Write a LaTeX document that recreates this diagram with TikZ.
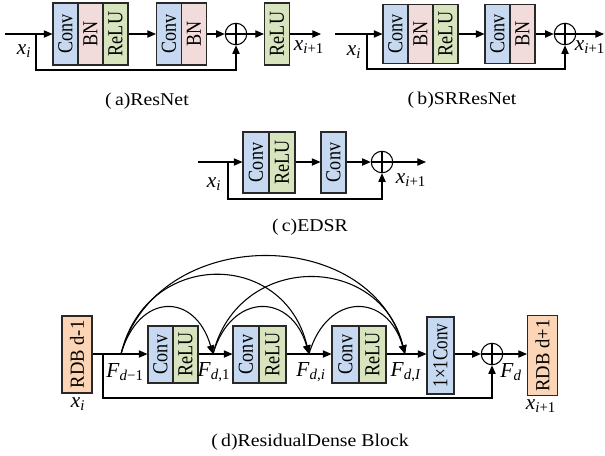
\documentclass[tikz,border=0pt]{standalone}
\usepackage{fontspec}
\setmainfont{Liberation Serif}
\usetikzlibrary{arrows.meta}

\definecolor{convc}{RGB}{198,217,240}
\definecolor{bnc}{RGB}{242,220,219}
\definecolor{reluc}{RGB}{215,228,189}
\definecolor{rdbc}{RGB}{251,213,181}
\definecolor{edgec}{RGB}{40,40,40}

% vertical text inside a layer box, slightly condensed along the text direction
\newcommand{\vtext}[2][0.85]{\rotatebox{90}{\scalebox{#1}[1]{#2}}}
\newcommand{\capt}[2]{\scalebox{1.1}[1]{(\,#1)#2}}

\begin{document}
\begin{tikzpicture}[x=0.75pt,y=-0.75pt,line width=0.8pt,
  arr/.style={-{Triangle[length=6.5pt,width=5.5pt]}},
  cell/.style n args={3}{draw=edgec,fill=#1,minimum width=#2*0.75pt,
    minimum height=#3*0.75pt,inner sep=0pt,font=\fontsize{16}{17}\selectfont},
  sumnode/.style={circle,draw,fill=white,minimum size=21.5*0.75pt,inner sep=0pt,
    path picture={\draw (path picture bounding box.north) -- (path picture bounding box.south)
      (path picture bounding box.west) -- (path picture bounding box.east);}},
  lbl/.style={inner sep=0pt,font=\fontsize{16}{17}\selectfont},
  caption/.style={inner sep=0pt,font=\fontsize{13.5}{15}\selectfont}]
\useasboundingbox (0,0) rectangle (605,455);

% ---------------- (a) ResNet ----------------
\coordinate (ain) at (5,34);
\coordinate (abr) at (36,34);
\node[cell={convc}{25}{62}] (a1c) at (65.5,34) {\vtext{Conv}};
\node[cell={bnc}{25}{62}]   (a1b) at (90.5,34) {\vtext{BN}};
\node[cell={reluc}{25}{62}] (a1r) at (115.5,34) {\vtext{ReLU}};
\node[cell={convc}{25}{62}] (a2c) at (169,34) {\vtext{Conv}};
\node[cell={bnc}{25}{62}]   (a2b) at (194,34) {\vtext{BN}};
\node[sumnode] (aplus) at (236,34) {};
\node[cell={reluc}{25}{62}] (a3r) at (277,34) {\vtext{ReLU}};
\coordinate (aout) at (321,34);
\draw[arr] (ain) -- (a1c.west);
\draw[arr] (a1r.east) -- (a2c.west);
\draw[arr] (a2b.east) -- (aplus.west);
\draw[arr] (aplus.east) -- (a3r.west);
\draw[arr] (a3r.east) -- (aout);
\draw[arr] (abr) -- ++(0,36) -| (aplus.south);
\node[lbl] (axi) at (24,51) {\textit{x}\textsubscript{\textit{i}}};
\node[lbl] (axo) at (309,47) {\textit{x}\textsubscript{\textit{i}+1}};
\node[caption] (capa) at (147,101) {\capt{a}{ResNet}};

% ---------------- (b) SRResNet ----------------
\coordinate (bin) at (335,34);
\coordinate (bbr) at (367,34);
\node[cell={convc}{25}{59}] (b1c) at (395.5,34) {\vtext{Conv}};
\node[cell={bnc}{25}{59}]   (b1b) at (420.5,34) {\vtext{BN}};
\node[cell={reluc}{25}{59}] (b1r) at (445.5,34) {\vtext{ReLU}};
\node[cell={convc}{25}{59}] (b2c) at (497.5,34) {\vtext{Conv}};
\node[cell={bnc}{25}{59}]   (b2b) at (522.5,34) {\vtext{BN}};
\node[sumnode] (bplus) at (565,34) {};
\coordinate (bout) at (604,34);
\draw[arr] (bin) -- (b1c.west);
\draw[arr] (b1r.east) -- (b2c.west);
\draw[arr] (b2b.east) -- (bplus.west);
\draw[arr] (bplus.east) -- (bout);
\draw[arr] (bbr) -- ++(0,35) -| (bplus.south);
\node[lbl] (bxi) at (354,52) {\textit{x}\textsubscript{\textit{i}}};
\node[lbl] (bxo) at (590,47) {\textit{x}\textsubscript{\textit{i}+1}};
\node[caption] (capb) at (462,100) {\capt{b}{SRResNet}};

% ---------------- (c) EDSR ----------------
\coordinate (cin) at (198,162);
\coordinate (cbr) at (228,162);
\node[cell={convc}{26}{61}] (c1c) at (256,162.5) {\vtext{Conv}};
\node[cell={reluc}{26}{61}] (c1r) at (282,162.5) {\vtext{ReLU}};
\node[cell={convc}{25}{61}] (c2c) at (333.5,162.5) {\vtext{Conv}};
\node[sumnode] (cplus) at (382,162) {};
\coordinate (cout) at (426,162);
\draw[arr] (cin) -- (c1c.west |- cin);
\draw[arr] (c1r.east |- cin) -- (c2c.west |- cin);
\draw[arr] (c2c.east |- cin) -- (cplus.west);
\draw[arr] (cplus.east) -- (cout);
\draw[arr] (cbr) -- ++(0,37) -| (cplus.south);
\node[lbl] (cxi) at (214,184) {\textit{x}\textsubscript{\textit{i}}};
\node[lbl] (cxo) at (411,180) {\textit{x}\textsubscript{\textit{i}+1}};
\node[caption] (capc) at (310,227) {\capt{c}{EDSR}};

% ---------------- (d) Residual Dense Block ----------------
\node[cell={rdbc}{30}{77},font=\fontsize{15}{16}\selectfont] (rdb0) at (77,354.5) {\vtext[0.93]{RDB d-1}};
\coordinate (dbr) at (103,354);
\coordinate (F0) at (121,354);
\node[cell={convc}{25}{57}] (d1c) at (160.5,354.5) {\vtext{Conv}};
\node[cell={reluc}{25}{57}] (d1r) at (185.5,354.5) {\vtext{ReLU}};
\coordinate (F1) at (213,354);
\node[cell={convc}{26}{57}] (d2c) at (246,354.5) {\vtext{Conv}};
\node[cell={reluc}{27}{57}] (d2r) at (272.5,354.5) {\vtext{ReLU}};
\coordinate (F2) at (309,354);
\node[cell={convc}{27}{57}] (d3c) at (345.5,354.5) {\vtext{Conv}};
\node[cell={reluc}{27}{57}] (d3r) at (372.5,354.5) {\vtext{ReLU}};
\coordinate (F3) at (405,354);
\node[cell={convc}{27}{77}] (d1x1) at (440.5,355.5) {\vtext[0.8]{1×1Conv}};
\node[sumnode] (dplus) at (492,354) {};
\node[cell={rdbc}{30}{80},font=\fontsize{15}{16}\selectfont] (rdb1) at (542.5,355.5) {\vtext[0.93]{RDB d+1}};

\draw (rdb0.east |- F0) -- (F0);
\draw[arr] (F0) -- (d1c.west |- F0);
\draw (d1r.east |- F1) -- (F1);
\draw[arr] (F1) -- (d2c.west |- F1);
\draw (d2r.east |- F2) -- (F2);
\draw[arr] (F2) -- (d3c.west |- F2);
\draw (d3r.east |- F3) -- (F3);
\draw[arr] (F3) -- (d1x1.west |- F3);
\draw[arr] (d1x1.east |- dplus) -- (dplus.west);
\draw[arr] (dplus.east) -- (rdb1.west |- dplus);
\draw[arr] (dbr) -- ++(0,44) -| (dplus.south);

% dense connections between feature maps
\draw[arr] (F0) .. controls +(18,-62) and +(-18,-62) .. (F1);
\draw[arr] (F1) .. controls +(18,-62) and +(-18,-62) .. (F2);
\draw[arr] (F2) .. controls +(18,-62) and +(-18,-62) .. (F3);
\draw[arr] (F0) .. controls +(25,-105) and +(-25,-105) .. (F2);
\draw[arr] (F1) .. controls +(25,-102) and +(-25,-102) .. (F3);
\draw[arr] (F0) .. controls +(35,-130) and +(-35,-130) .. (F3);

\node[lbl] (lF0) at (125,372) {\textit{F}\textsubscript{\textit{d}−1}};
\node[lbl] (lF1) at (214,372) {\textit{F}\textsubscript{\textit{d},1}};
\node[lbl] (lF2) at (311,372) {\textit{F}\textsubscript{\textit{d},\textit{i}}};
\node[lbl] (lF3) at (406,372) {\textit{F}\textsubscript{\textit{d},\textit{I}}};
\node[lbl] (lFd) at (511,372) {\textit{F}\textsubscript{\textit{d}}};
\node[lbl] (dxi) at (78,404) {\textit{x}\textsubscript{\textit{i}}};
\node[lbl] (dxo) at (541,406) {\textit{x}\textsubscript{\textit{i}+1}};
\node[caption] (capd) at (310,442) {\capt{d}{ResidualDense Block}};
\end{tikzpicture}
\end{document}
